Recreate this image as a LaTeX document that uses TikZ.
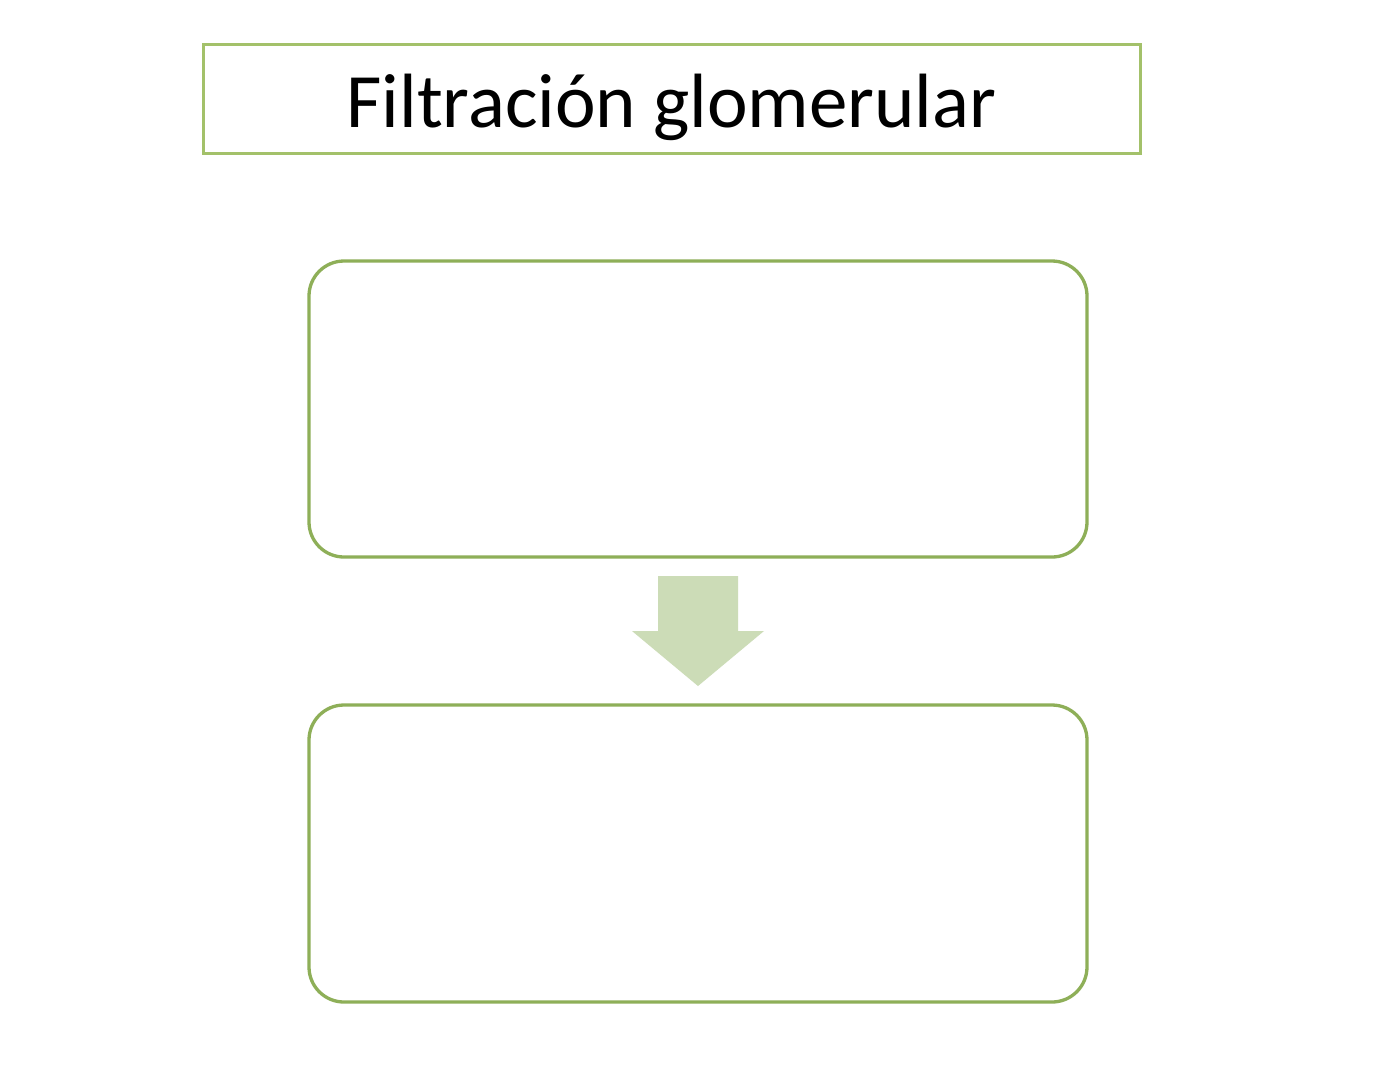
\documentclass[tikz,border=0pt]{standalone}
\usepackage{fontspec}
\setmainfont{Carlito}
\definecolor{titlegreen}{HTML}{A3C16A}
\definecolor{boxgreen}{HTML}{8EAF58}
\definecolor{arrowgreen}{HTML}{CCDCB7}
\begin{document}
\begin{tikzpicture}[x=0.02cm,y=-0.02cm,
  titlebox/.style={draw=titlegreen,line width=3*0.02cm,rectangle,inner sep=0pt},
  stagebox/.style={draw=boxgreen,line width=3.3*0.02cm,rounded corners=35*0.02cm,inner sep=0pt,fill=white}]
\useasboundingbox (0,0) rectangle (1397,1080);
\fill[white] (0,0) rectangle (1397,1080);
\node[titlebox,minimum width=937*0.02cm,minimum height=109*0.02cm] (title) at (671.5,98.5) {};
\node[font=\fontsize{43.8pt}{48pt}\selectfont,anchor=base] (titletext) at (671.5,127) {Filtración glomerular};
\node[stagebox,minimum width=778*0.02cm,minimum height=296*0.02cm] (box1) at (698,409) {};
\node[stagebox,minimum width=778*0.02cm,minimum height=297*0.02cm] (box2) at (698,853.5) {};
\coordinate (tip) at (698,686);
\fill[arrowgreen] (658,576) -- (738,576) -- (738,631) -- (764,631) -- (tip) -- (632,631) -- (658,631) -- cycle;
\end{tikzpicture}
\end{document}
